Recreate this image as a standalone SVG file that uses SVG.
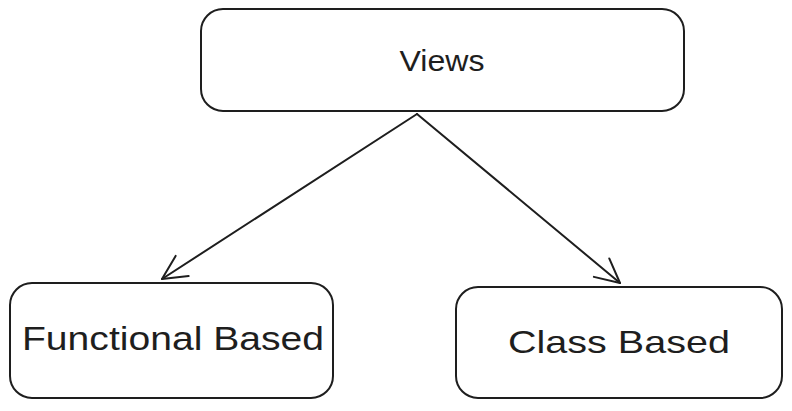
<svg xmlns="http://www.w3.org/2000/svg" width="792" height="411" viewBox="0 0 792 411">
<style>
.box{fill:#ffffff;stroke:#1e1e1e;stroke-width:2;}
.lbl{font-family:"Liberation Sans",Arial,sans-serif;fill:#1e1e1e;text-anchor:middle;}
.edge{fill:none;stroke:#1e1e1e;stroke-width:2;stroke-linecap:round;}
</style>
<defs>
<marker id="arr" viewBox="0 0 30 30" refX="28" refY="15" markerWidth="30" markerHeight="30" markerUnits="userSpaceOnUse" orient="auto">
<path d="M4 3 L28 15 L4 27" fill="none" stroke="#1e1e1e" stroke-width="2" stroke-linecap="round" stroke-linejoin="round"/>
</marker>
</defs>
<rect width="792" height="411" fill="#ffffff"/>
<g id="connectors">
<path class="edge" d="M417 114 L162 279" marker-end="url(#arr)"/>
<path class="edge" d="M417 114 L620 283" marker-end="url(#arr)"/>
</g>
<g id="node-views">
<rect class="box" x="201" y="9" width="483" height="102" rx="22" ry="22"/>
<text class="lbl" x="442" y="71" font-size="29" textLength="85" lengthAdjust="spacingAndGlyphs">Views</text>
</g>
<g id="node-functional">
<rect class="box" x="10" y="283" width="323" height="115" rx="22" ry="22"/>
<text class="lbl" x="173" y="350" font-size="33" textLength="302" lengthAdjust="spacingAndGlyphs">Functional Based</text>
</g>
<g id="node-class">
<rect class="box" x="456" y="287" width="326" height="111" rx="22" ry="22"/>
<text class="lbl" x="619" y="353" font-size="32" textLength="222" lengthAdjust="spacingAndGlyphs">Class Based</text>
</g>
</svg>
